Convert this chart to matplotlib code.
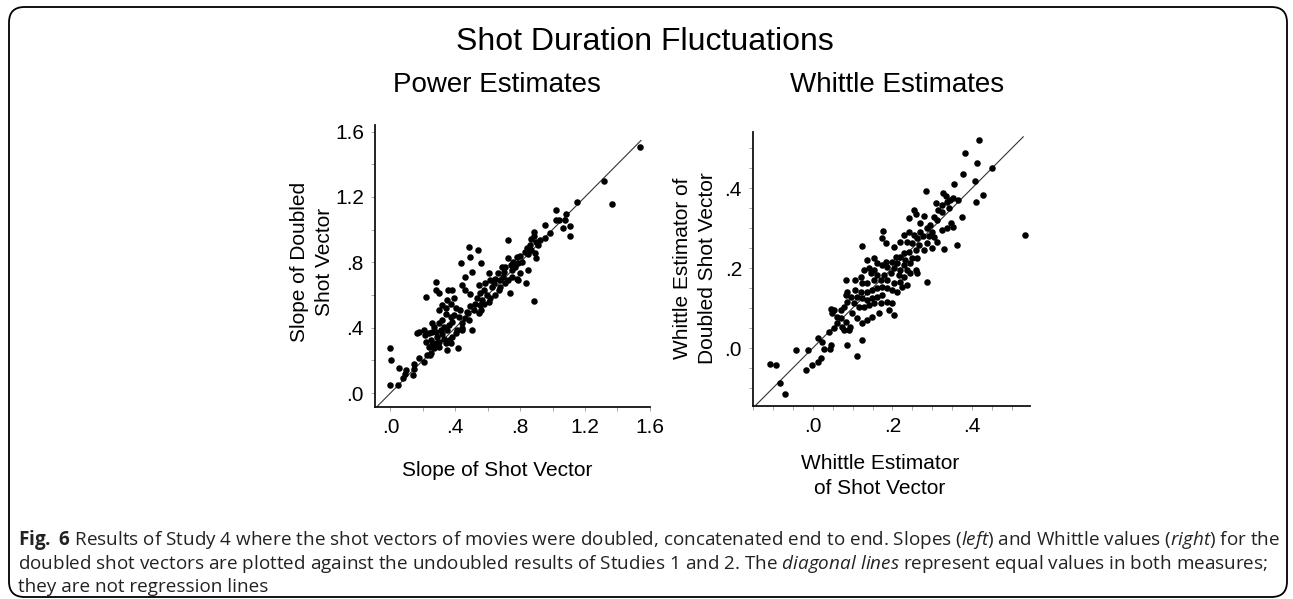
import matplotlib
matplotlib.use("Agg")
import matplotlib.pyplot as plt
from matplotlib.patches import FancyBboxPatch
from matplotlib.ticker import MultipleLocator, FixedLocator, FixedFormatter
import numpy as np

# ---------------- data ----------------
power_x = [1.539, 1.319, 1.366, 1.152, 1.019, 1.023, 1.04, 1.085, 1.074, 1.109, 1.064, 1.11,
           0.952, 0.983, 0.952, 0.921, 0.887, 0.887, 0.87, 0.895, 0.911, 0.86, 0.84, 0.83,
           0.85, 0.8, 0.779, 0.813, 0.87, 0.891, 0.897, 0.724, 0.758, 0.789, 0.728, 0.769,
           0.748, 0.8, 0.85, 0.789, 0.836, 0.887, 0.738, 0.703, 0.697, 0.677, 0.646, 0.663,
           0.707, 0.606, 0.616, 0.585, 0.626, 0.575, 0.555, 0.544, 0.595, 0.616, 0.565, 0.534,
           0.52, 0.555, 0.493, 0.514, 0.479, 0.561, 0.544, 0.463, 0.473, 0.442, 0.422, 0.402,
           0.428, 0.483, 0.442, 0.412, 0.503, 0.483, 0.493, 0.538, 0.561, 0.503, 0.436, 0.459,
           0.442, 0.463, 0.493, 0.381, 0.391, 0.351, 0.371, 0.32, 0.34, 0.3, 0.279, 0.279,
           0.3, 0.357, 0.218, 0.34, 0.371, 0.391, 0.381, 0.361, 0.32, 0.3, 0.33, 0.351,
           0.259, 0.269, 0.279, 0.31, 0.32, 0.29, 0.33, 0.3, 0.34, 0.361, 0.381, 0.402,
           0.371, 0.351, 0.418, 0.442, 0.259, 0.239, 0.208, 0.214, 0.177, 0.167, 0.249, 0.259,
           0.218, 0.269, 0.239, 0.279, 0.3, 0.249, 0.243, 0.228, 0.177, 0.208, 0.147, 0.143,
           0.137, 0.096, 0.09, 0.075, 0.055, 0.045, -0.002, 0.004, 0.0, 0.575, 0.606, 0.646,
           0.667, 0.636, 0.677, 0.728, 0.748, 0.779, 0.707, 0.744, 0.687]
power_y = [1.503, 1.299, 1.154, 1.166, 1.123, 1.058, 1.058, 1.095, 1.058, 1.021, 1.007, 0.96,
           1.03, 0.977, 0.95, 0.936, 0.987, 0.96, 0.94, 0.926, 0.905, 0.905, 0.885, 0.864,
           0.85, 0.838, 0.834, 0.803, 0.875, 0.854, 0.824, 0.936, 0.803, 0.793, 0.824, 0.773,
           0.752, 0.732, 0.752, 0.691, 0.671, 0.563, 0.61, 0.742, 0.711, 0.691, 0.701, 0.732,
           0.671, 0.732, 0.691, 0.671, 0.65, 0.63, 0.61, 0.661, 0.6, 0.579, 0.569, 0.579,
           0.548, 0.538, 0.532, 0.508, 0.487, 0.508, 0.487, 0.457, 0.497, 0.426, 0.467, 0.518,
           0.508, 0.446, 0.396, 0.385, 0.385, 0.891, 0.834, 0.875, 0.793, 0.742, 0.793, 0.711,
           0.661, 0.63, 0.605, 0.63, 0.579, 0.569, 0.548, 0.538, 0.518, 0.508, 0.681, 0.63,
           0.61, 0.63, 0.585, 0.483, 0.467, 0.477, 0.436, 0.416, 0.446, 0.426, 0.406, 0.385,
           0.426, 0.406, 0.375, 0.385, 0.361, 0.345, 0.334, 0.314, 0.304, 0.324, 0.345, 0.365,
           0.304, 0.263, 0.277, 0.385, 0.375, 0.365, 0.385, 0.355, 0.375, 0.365, 0.324, 0.294,
           0.314, 0.273, 0.283, 0.304, 0.279, 0.243, 0.232, 0.232, 0.212, 0.192, 0.181, 0.145,
           0.11, 0.141, 0.114, 0.09, 0.151, 0.049, 0.049, 0.202, 0.273, 0.548, 0.559, 0.599,
           0.63, 0.671, 0.65, 0.691, 0.711, 0.701, 0.773, 0.783, 0.773]

whittle_x = [0.418, 0.381, 0.413, 0.45, 0.376, 0.408, 0.355, 0.426, 0.41, 0.533, 0.374, 0.362,
             0.328, 0.284, 0.327, 0.333, 0.353, 0.364, 0.337, 0.345, 0.308, 0.324, 0.341, 0.313,
             0.324, 0.303, 0.312, 0.348, 0.353, 0.337, 0.323, 0.253, 0.26, 0.278, 0.241, 0.27,
             0.295, 0.287, 0.299, 0.291, 0.303, 0.27, 0.277, 0.262, 0.253, 0.241, 0.228, 0.218,
             0.237, 0.249, 0.266, 0.287, 0.312, 0.299, 0.278, 0.258, 0.241, 0.228, 0.22, 0.208,
             0.199, 0.232, 0.249, 0.262, 0.245, 0.228, 0.212, 0.184, 0.176, 0.174, 0.183, 0.203,
             0.124, 0.137, 0.153, 0.162, 0.174, 0.187, 0.203, 0.22, 0.237, 0.258, 0.262, 0.245,
             0.228, 0.216, 0.195, 0.178, 0.153, 0.141, 0.128, 0.145, 0.162, 0.17, 0.153, 0.137,
             0.12, 0.124, 0.187, 0.203, 0.22, 0.237, 0.224, 0.212, 0.199, 0.187, 0.174, 0.162,
             0.149, 0.137, 0.12, 0.106, 0.087, 0.084, 0.105, 0.287, 0.174, 0.162, 0.149, 0.137,
             0.124, 0.112, 0.095, 0.087, 0.083, 0.153, 0.141, 0.128, 0.116, 0.103, 0.17, 0.187,
             0.199, 0.191, 0.203, 0.166, 0.149, 0.137, 0.124, 0.112, 0.099, 0.078, 0.07, 0.053,
             0.045, 0.049, 0.06, 0.07, 0.083, 0.093, 0.074, 0.062, 0.053, 0.041, 0.078, 0.091,
             0.087, 0.123, 0.112, 0.012, 0.022, 0.045, 0.028, 0.043, -0.012, 0.02, 0.014, -0.001,
             -0.018, -0.108, -0.093, -0.082, -0.07, -0.041]
whittle_y = [0.52, 0.488, 0.463, 0.451, 0.434, 0.418, 0.41, 0.383, 0.366, 0.283, 0.328, 0.258,
             0.247, 0.393, 0.388, 0.38, 0.374, 0.37, 0.366, 0.37, 0.363, 0.358, 0.349, 0.345,
             0.341, 0.328, 0.32, 0.312, 0.303, 0.299, 0.295, 0.345, 0.335, 0.33, 0.324, 0.312,
             0.308, 0.299, 0.291, 0.28, 0.278, 0.291, 0.28, 0.274, 0.283, 0.291, 0.283, 0.266,
             0.266, 0.262, 0.258, 0.262, 0.266, 0.249, 0.245, 0.245, 0.241, 0.237, 0.228, 0.228,
             0.216, 0.22, 0.224, 0.224, 0.212, 0.208, 0.212, 0.216, 0.293, 0.274, 0.262, 0.253,
             0.255, 0.22, 0.224, 0.212, 0.208, 0.203, 0.199, 0.195, 0.195, 0.195, 0.187, 0.187,
             0.178, 0.183, 0.187, 0.183, 0.195, 0.199, 0.195, 0.187, 0.183, 0.17, 0.17, 0.162,
             0.178, 0.162, 0.17, 0.162, 0.166, 0.158, 0.153, 0.141, 0.145, 0.149, 0.153, 0.149,
             0.145, 0.141, 0.141, 0.145, 0.141, 0.17, 0.17, 0.166, 0.133, 0.128, 0.124, 0.12,
             0.124, 0.128, 0.128, 0.116, 0.133, 0.112, 0.108, 0.103, 0.103, 0.112, 0.112, 0.116,
             0.113, 0.095, 0.083, 0.087, 0.078, 0.07, 0.062, 0.074, 0.087, 0.103, 0.095, 0.095,
             0.097, 0.087, 0.078, 0.074, 0.066, 0.053, 0.053, 0.062, 0.049, 0.041, 0.045, 0.045,
             0.008, 0.02, -0.02, 0.026, 0.016, 0.008, -0.003, -0.003, -0.005, -0.026, -0.034, -0.043,
             -0.055, -0.041, -0.043, -0.088, -0.116, -0.005]

power_ticks = [0.0, 0.4, 0.8, 1.2, 1.6]
power_ticklabels = [".0", ".4", ".8", "1.2", "1.6"]
whittle_ticks = [0.0, 0.2, 0.4]
whittle_ticklabels = [".0", ".2", ".4"]

# ---------------- figure ----------------
W, H = 1293, 599
fig = plt.figure(figsize=(W / 100, H / 100), dpi=100)
fig.patch.set_facecolor("white")

ARIAL = ["Liberation Sans", "DejaVu Sans"]


def fx(px):
    return px / W


def fy(py):
    return 1 - py / H


# frame
frame = FancyBboxPatch((fx(9), fy(597)), fx(1287) - fx(9), fy(7) - fy(597),
                       boxstyle="round,pad=0,rounding_size=0.012",
                       transform=fig.transFigure, facecolor="none",
                       edgecolor="black", linewidth=1.3, mutation_aspect=W / H)
fig.patches.append(frame)


def style_axes(ax, xlim, ylim, xt, xtl, yt, ytl, minor):
    ax.set_xlim(*xlim)
    ax.set_ylim(*ylim)
    for s in ("top", "right"):
        ax.spines[s].set_visible(False)
    for s in ("left", "bottom"):
        ax.spines[s].set_linewidth(1.3)
        ax.spines[s].set_color("#111111")
    ax.xaxis.set_major_locator(FixedLocator(xt))
    ax.xaxis.set_major_formatter(FixedFormatter(xtl))
    ax.yaxis.set_major_locator(FixedLocator(yt))
    ax.yaxis.set_major_formatter(FixedFormatter(ytl))
    ax.xaxis.set_minor_locator(MultipleLocator(minor))
    ax.yaxis.set_minor_locator(MultipleLocator(minor))
    ax.tick_params(which="both", direction="out", length=3, width=0.6,
                   color="#999999", labelsize=15, pad=5)
    for lab in ax.get_xticklabels() + ax.get_yticklabels():
        lab.set_family(ARIAL)
    ax.set_facecolor("none")


# left axes
ax1 = fig.add_axes([fx(375), fy(407), fx(650) - fx(375), fy(125) - fy(407)])
style_axes(ax1, (-0.095, 1.601), (-0.085, 1.64), power_ticks, power_ticklabels,
           power_ticks, power_ticklabels, 0.2)
d1 = np.array([-0.095, 1.545])
ax1.plot(d1, d1, color="#333333", lw=0.8, zorder=1)
ax1.scatter(power_x, power_y, s=22, color="black", linewidths=0, zorder=2)

# right axes
ax2 = fig.add_axes([fx(753), fy(406), fx(1030) - fx(753), fy(132) - fy(406)])
style_axes(ax2, (-0.15, 0.545), (-0.145, 0.54), whittle_ticks, whittle_ticklabels,
           whittle_ticks, whittle_ticklabels, 0.05)
d2 = np.array([-0.15, 0.528])
ax2.plot(d2, d2, color="#333333", lw=0.8, zorder=1)
ax2.scatter(whittle_x, whittle_y, s=22, color="black", linewidths=0, zorder=2)

# titles
fig.text(fx(645), fy(42), "Shot Duration Fluctuations", ha="center", va="center",
         fontsize=23, family=ARIAL)
fig.text(fx(497), fy(85), "Power Estimates", ha="center", va="center",
         fontsize=20, family=ARIAL)
fig.text(fx(897), fy(85), "Whittle Estimates", ha="center", va="center",
         fontsize=20, family=ARIAL)

# axis labels
fig.text(fx(312), fy(262), "Slope of Doubled\nShot Vector", ha="center", va="center",
         rotation=90, fontsize=15, family=ARIAL, multialignment="center", linespacing=1.45)
fig.text(fx(497), fy(470), "Slope of Shot Vector", ha="center", va="center",
         fontsize=15, family=ARIAL)
fig.text(fx(695), fy(268), "Whittle Estimator of\nDoubled Shot Vector", ha="center",
         va="center", rotation=90, fontsize=15, family=ARIAL, multialignment="center",
         linespacing=1.45)
fig.text(fx(880), fy(476), "Whittle Estimator\nof Shot Vector", ha="center", va="center",
         fontsize=15, family=ARIAL, multialignment="center", linespacing=1.45)

# caption
plt.rcParams["mathtext.fontset"] = "custom"
plt.rcParams["mathtext.rm"] = "Open Sans"
plt.rcParams["mathtext.it"] = "Open Sans:italic"
plt.rcParams["mathtext.bf"] = "Open Sans:bold"
cap_lines = [
    r"$\mathbf{Fig.\ 6}$ Results of Study 4 where the shot vectors of movies were doubled, "
    r"concatenated end to end. Slopes ($\mathit{left}$) and Whittle values ($\mathit{right}$) for the",
    r"doubled shot vectors are plotted against the undoubled results of Studies 1 and 2. The "
    r"$\mathit{diagonal\ lines}$ represent equal values in both measures;",
    "they are not regression lines",
]
cap_y = [540, 564, 587]
cap_color = "#222222"
cap_texts = []
for line, yy in zip(cap_lines, cap_y):
    t = fig.text(fx(18), fy(yy), line, ha="left", va="center", fontsize=12,
                 family="Open Sans", color=cap_color)
    cap_texts.append(t)

fig.canvas.draw()
r = fig.canvas.get_renderer()
w0 = cap_texts[0].get_window_extent(r).width
scale = (1276 - 18) / w0
for t in cap_texts:
    t.set_fontsize(12 * scale)

fig.savefig("out.png", dpi=100, facecolor="white")
